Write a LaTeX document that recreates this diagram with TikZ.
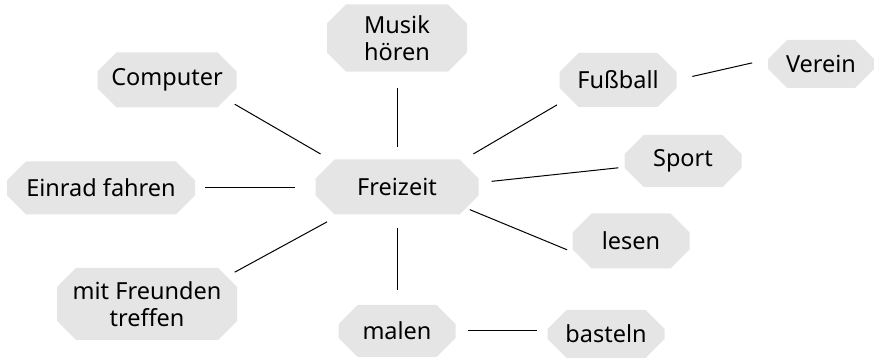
\documentclass[tikz,border=0pt]{standalone}
\usepackage{fontspec}
\setmainfont{Noto Sans}
\usetikzlibrary{shapes.misc}

\tikzset{
  idee/.style={chamfered rectangle, chamfered rectangle xsep=8pt,
    chamfered rectangle ysep=11pt, fill=black!10, inner sep=0pt,
    align=center, text=black, font=\fontsize{23.5}{27}\selectfont},
  ast/.style={line width=1pt}
}

\begin{document}
\begin{tikzpicture}[x=1pt,y=1pt]
    \useasboundingbox (0,0) rectangle (874,358);

    \node[idee,minimum width=163pt,minimum height=55pt] (frei) at (397,171) {Freizeit};
    \node[idee,minimum width=140pt,minimum height=67pt] (musik) at (397,320) {Musik\\hören};
    \node[idee,minimum width=139pt,minimum height=55pt] (comp) at (167,278) {Computer};
    \node[idee,minimum width=117pt,minimum height=54pt] (fuss) at (618,278) {Fußball};
    \node[idee,minimum width=106pt,minimum height=48pt] (verein) at (821,294) {Verein};
    \node[idee,minimum width=117pt,minimum height=52pt] (sport) at (683,197) {Sport};
    \node[idee,minimum width=188pt,minimum height=53pt] (einrad) at (101,170) {Einrad fahren};
    \node[idee,minimum width=117pt,minimum height=55pt] (lesen) at (631,117) {lesen};
    \node[idee,minimum width=180pt,minimum height=72pt] (freunde) at (147,54) {mit Freunden\\treffen};
    \node[idee,minimum width=117pt,minimum height=52pt] (malen) at (397,27) {malen};
    \node[idee,minimum width=117pt,minimum height=48pt] (basteln) at (606,24) {basteln};

    \draw[ast,shorten <=10pt,shorten >=14pt] (comp.-18) -- (frei.158);
    \draw[ast,shorten <=16pt,shorten >=12pt] (musik.south) -- (musik.south |- frei.north);
    \draw[ast,shorten <=14pt,shorten >=14pt] (fuss.200) -- (frei.22);
    \draw[ast,shorten <=16pt,shorten >=16pt] (verein.175) -- (fuss.east);
    \draw[ast,shorten <=6pt,shorten >=13pt] (sport.186) -- (frei.3);
    \draw[ast,shorten <=10pt,shorten >=20pt] (einrad.east) -- (einrad.east -| frei.west);
    \draw[ast,shorten <=10pt,shorten >=4pt] (lesen.193) -- (frei.-17);
    \draw[ast,shorten <=9pt,shorten >=15pt] (freunde.19) -- (frei.206);
    \draw[ast,shorten <=15pt,shorten >=13pt] (malen.north) -- (malen.north |- frei.south);
    \draw[ast,shorten <=12pt,shorten >=10pt] (malen.east) -- (malen.east -| basteln.west);
\end{tikzpicture}
\end{document}
